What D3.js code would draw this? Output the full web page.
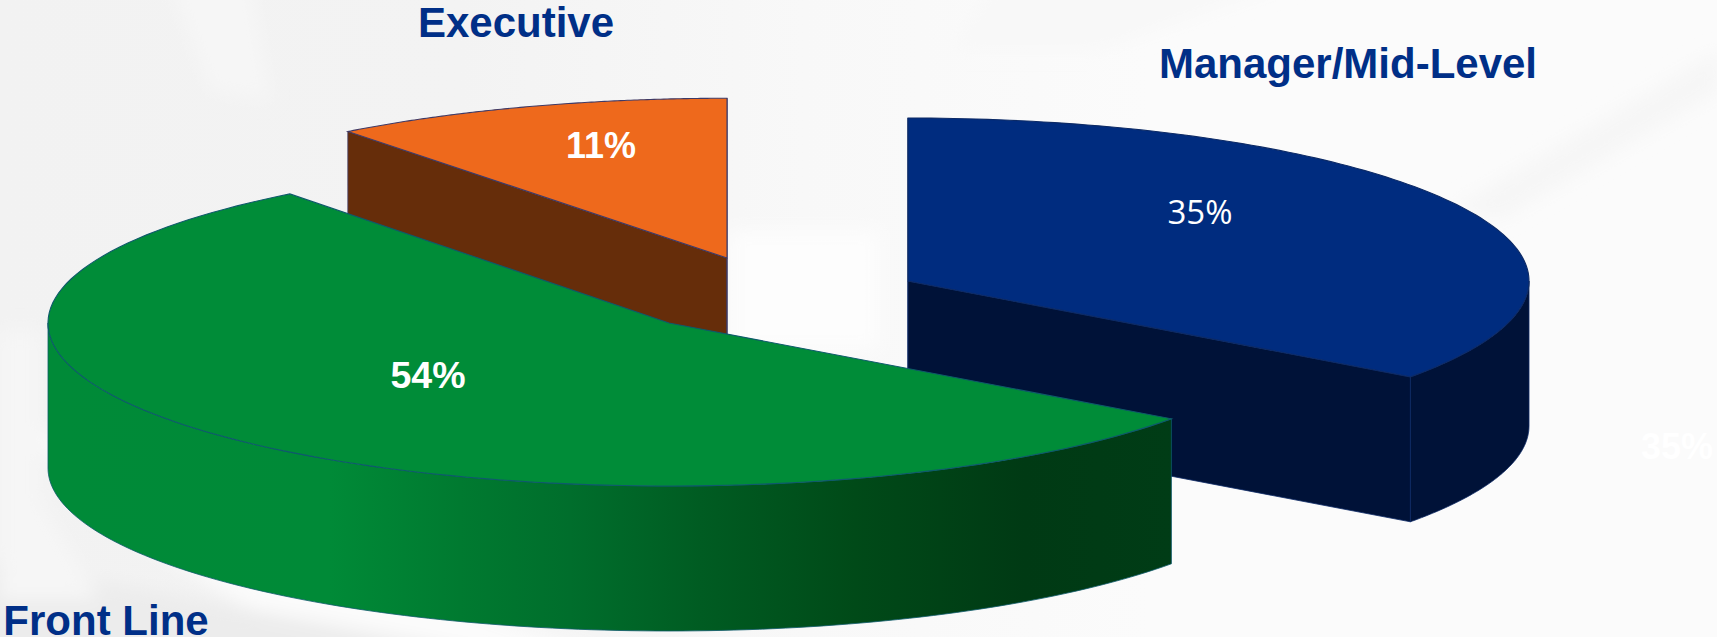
<!DOCTYPE html>
<html>
<head>
<meta charset="utf-8">
<title>Respondents by level</title>
<script src="https://cdn.jsdelivr.net/npm/d3@7/dist/d3.min.js"></script>
<style>
  html, body { margin: 0; padding: 0; background: #fafafa; }
  svg { display: block; }
  text { font-family: "Liberation Sans", Arial, sans-serif; }
</style>
</head>
<body>
<svg id="chart" width="1717" height="637"></svg>
<script>
// Shares per job level, in clockwise order from twelve o'clock
const categories = ["Manager/Mid-Level", "Front Line", "Executive"];
const shares = [35, 54, 11];
const shareLabels = ["35%", "54%", "11%"];

const width = 1717, height = 637;
const radiusX = 621, radiusY = 163, wallDepth = 145;
const backLeftSkew = 0.035;   // the tilt pulls angles in the back-left quadrant towards the top

// Where each exploded wedge sits, and how much the tilt flattens it
const wedgeLayout = [
  { cx: 908, cy: 281, sy: 1 },
  { cx: 669, cy: 323, sy: 1 },
  { cx: 727, cy: 258, sy: 0.98 }
];
const wedgeColors = [
  { top: "#002c7f", wall: "#001238", edge: "#0c2a66" },
  { top: "#008c38", wall: "url(#greenWall)", edge: "#0e5a6b" },
  { top: "#ee691c", wall: "#662d0a", edge: "#3f3a66" }
];
const nameLabels = [
  { x: 1348, y: 78 },
  { x: 106, y: 635 },
  { x: 516, y: 37 }
];
const valueLabels = [
  { x: 1200, y: 224, size: 33, weight: 400, family: "'Open Sans'" },
  { x: 428, y: 388, size: 37.5, weight: 700, family: "'Liberation Sans'" },
  { x: 601, y: 158, size: 36, weight: 700, family: "'Liberation Sans'" }
];

const svg = d3.select("#chart");
const defs = svg.append("defs");

defs.append("filter").attr("id", "soft")
  .attr("x", "-30%").attr("y", "-30%").attr("width", "160%").attr("height", "160%")
  .append("feGaussianBlur").attr("stdDeviation", 9);

const backdrop = defs.append("linearGradient").attr("id", "backdrop")
  .attr("gradientUnits", "userSpaceOnUse")
  .attr("x1", 0).attr("y1", 0).attr("x2", 1150).attr("y2", 0);
[[0, "#f2f2f2"], [0.4, "#f3f3f3"], [0.7, "#f8f8f8"], [1, "#fbfbfb"]].forEach(([o, c]) =>
  backdrop.append("stop").attr("offset", o).attr("stop-color", c));

const greenWall = defs.append("linearGradient").attr("id", "greenWall")
  .attr("gradientUnits", "userSpaceOnUse")
  .attr("x1", 48).attr("y1", 0).attr("x2", 1172).attr("y2", 0);
[[48, "#008a38"], [330, "#008a37"], [460, "#007a30"], [570, "#006e2c"],
 [700, "#005c22"], [855, "#004a18"], [1024, "#003a14"], [1172, "#003c16"]]
  .forEach(([x, c]) => greenWall.append("stop")
    .attr("offset", (x - 48) / (1172 - 48)).attr("stop-color", c));

// Paper-like backdrop: pale folds laid over a soft grey wash
svg.append("rect").attr("width", width).attr("height", height).attr("fill", "url(#backdrop)");
const folds = svg.append("g").attr("filter", "url(#soft)");
const foldShapes = [
  { d: "M170,-20 L250,-20 L270,100 L210,90 Z", fill: "#f6f6f6" },
  { d: "M20,420 L110,520 L330,660 L620,660 L200,520 Z", fill: "#fbfbfb" },
  { d: "M-20,560 L200,600 L620,680 L-20,680 Z", fill: "#ececec" },
  { d: "M0,330 L40,330 L40,500 L100,600 L0,600 Z", fill: "#f6f6f6" },
  { d: "M730,230 L880,230 L880,350 L730,350 Z", fill: "#fdfdfd" },
  { d: "M1450,210 L1720,50 L1720,90 L1500,220 Z", fill: "#f6f6f6" },
  { d: "M1000,-20 L1300,-20 L1100,50 L950,50 Z", fill: "#f8f8f8" }
];
folds.selectAll("path").data(foldShapes).join("path")
  .attr("d", d => d.d).attr("fill", d => d.fill);

// Faint leftover value near the right edge
svg.append("text").attr("x", 1677).attr("y", 459).attr("text-anchor", "middle")
  .attr("font-size", 36).attr("font-weight", 700).attr("fill", "#ffffff")
  .text(shareLabels[0]);

const pie = d3.pie().sort(null).startAngle(0).endAngle(2 * Math.PI);
const wedges = pie(shares).map((arc, i) => ({
  arc, name: categories[i], layout: wedgeLayout[i], color: wedgeColors[i]
}));

// Pie angle to screen point on the tilted rim
const tilt = theta => theta > 1.5 * Math.PI
  ? theta + backLeftSkew * Math.sin(2 * (theta - 1.5 * Math.PI))
  : theta;
const project = (layout, theta, drop = 0) => {
  const t = tilt(theta);
  return [
    layout.cx + radiusX * Math.sin(t),
    layout.cy - radiusY * layout.sy * Math.cos(t) + drop
  ];
};
const path = d3.line();
const sweep = (from, to) => d3.range(0, 121).map(k => from + (to - from) * k / 120);

// Top face of a wedge: centre, then around the rim
function topFace(w) {
  const rim = sweep(w.arc.startAngle, w.arc.endAngle).map(t => project(w.layout, t));
  return path([[w.layout.cx, w.layout.cy], ...rim]) + "Z";
}
// Curved outer wall; only the part facing the viewer is drawn
function outerWall(w) {
  const from = Math.max(w.arc.startAngle, Math.PI / 2);
  const to = Math.min(w.arc.endAngle, 3 * Math.PI / 2);
  if (from >= to) return null;
  const angles = sweep(from, to);
  const upper = angles.map(t => project(w.layout, t));
  const lower = angles.slice().reverse().map(t => project(w.layout, t, wallDepth));
  return path([...upper, ...lower]) + "Z";
}
// Flat cut face from the centre out to the rim at one angle
function cutWall(w, theta) {
  const rimPoint = project(w.layout, theta);
  const centre = [w.layout.cx, w.layout.cy];
  return path([
    centre, rimPoint,
    [rimPoint[0], rimPoint[1] + wallDepth],
    [centre[0], centre[1] + wallDepth]
  ]) + "Z";
}

// Back to front: navy, then orange, then the green wedge on top
const drawOrder = [0, 2, 1];
const groups = svg.selectAll("g.wedge").data(drawOrder.map(i => wedges[i])).join("g")
  .attr("class", "wedge");

["startAngle", "endAngle"].forEach(key => {
  groups.filter(w => w.name !== "Front Line").append("path")
    .attr("d", w => cutWall(w, w.arc[key]))
    .attr("fill", w => w.color.wall)
    .attr("stroke", w => w.color.edge).attr("stroke-width", 0.8);
});
groups.append("path")
  .attr("d", outerWall)
  .attr("fill", w => w.color.wall)
  .attr("stroke", w => w.color.edge).attr("stroke-width", 0.8);
groups.append("path")
  .attr("d", topFace)
  .attr("fill", w => w.color.top)
  .attr("stroke", w => w.color.edge).attr("stroke-width", 1.1);

svg.selectAll("text.name").data(categories).join("text")
  .attr("class", "name")
  .attr("x", (d, i) => nameLabels[i].x)
  .attr("y", (d, i) => nameLabels[i].y)
  .attr("text-anchor", "middle")
  .attr("font-size", 42)
  .attr("font-weight", 700)
  .attr("fill", "#002f87")
  .text(d => d);

svg.selectAll("text.value").data(shareLabels).join("text")
  .attr("class", "value")
  .attr("x", (d, i) => valueLabels[i].x)
  .attr("y", (d, i) => valueLabels[i].y)
  .attr("text-anchor", "middle")
  .attr("font-size", (d, i) => valueLabels[i].size)
  .attr("font-weight", (d, i) => valueLabels[i].weight)
  .style("font-family", (d, i) => valueLabels[i].family)
  .attr("fill", "#ffffff")
  .text(d => d);
</script>
</body>
</html>
